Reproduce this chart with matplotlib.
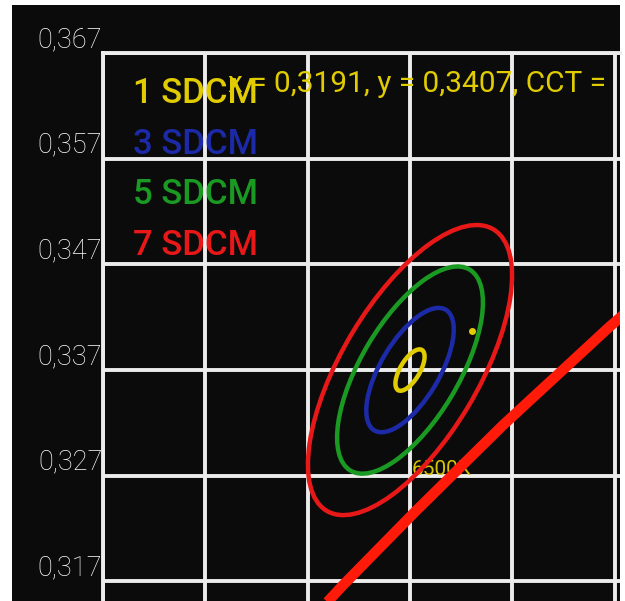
import matplotlib.pyplot as plt
from matplotlib.patches import Ellipse, Rectangle

plt.rcParams['font.family'] = ['Roboto', 'DejaVu Sans']

# grid / tick values
x_grid = [0.283, 0.293, 0.303, 0.313, 0.323, 0.333]
y_ticks = [0.317, 0.327, 0.337, 0.347, 0.357, 0.367]
y_tick_labels = ['0,317', '0,327', '0,337', '0,347', '0,357', '0,367']

# MacAdam ellipse (1 step) around F6500
center_x = 0.313
center_y = 0.337
ellipse_a = 0.00223
ellipse_b = 0.00095
ellipse_theta = 58.23
sdcm_steps = [1, 3, 5, 7]
sdcm_colors = ['#e0cc00', '#1c2aa8', '#1a9a22', '#e81818']

# Planckian locus points
locus_cct = [8000, 7500, 7000, 6500, 6000, 5500, 5000]
locus_x = [0.2952, 0.3004, 0.3064, 0.3135, 0.3221, 0.3325, 0.3451]
locus_y = [0.3048, 0.3103, 0.3166, 0.3236, 0.3318, 0.3411, 0.3516]

# measured point
point_x = 0.3191
point_y = 0.3407

fig = plt.figure(figsize=(6.25, 6.01), dpi=100, facecolor='white')
fig.add_artist(Rectangle((12 / 625, 0), 608 / 625, 596 / 601, transform=fig.transFigure,
                         facecolor='#0b0b0b', edgecolor='none', zorder=0))

ax = fig.add_axes([103 / 625, 0, 517 / 625, 548 / 601])
ax.set_facecolor('none')
ax.set_xlim(0.283, 0.33352)
ax.set_ylim(0.31515, 0.367)

ax.set_xticks(x_grid)
ax.set_yticks(y_ticks, y_tick_labels)
ax.grid(color='#ececec', lw=2.8, zorder=1)
ax.tick_params(axis='x', length=0, labelbottom=False)
ax.tick_params(axis='y', length=0, labelcolor='white', labelsize=19.5, pad=0.5)
for lab in ax.get_yticklabels():
    lab.set_va('bottom')
    lab.set_fontweight('light')
for side in ['bottom', 'right']:
    ax.spines[side].set_visible(False)
for side in ['left', 'top']:
    ax.spines[side].set_color('#ececec')
    ax.spines[side].set_linewidth(2.8)

# ellipses
for step, col in zip(sdcm_steps, sdcm_colors):
    e = Ellipse((center_x, center_y), 2 * ellipse_a * step, 2 * ellipse_b * step,
                angle=ellipse_theta, fill=False, edgecolor=col, lw=3.2, zorder=3)
    ax.add_patch(e)

# 6500K label and locus
ax.text(0.3132, 0.32707, '6500K', color='#d8c400', fontsize=15, zorder=2)
ax.plot(locus_x, locus_y, color='#ff1a0a', lw=7.5, zorder=4, solid_capstyle='butt')

ax.plot(point_x, point_y, 'o', color='#e0cc00', ms=4, zorder=5)

# legend texts
for i, (step, col) in enumerate(zip(sdcm_steps, sdcm_colors)):
    ax.text(0.058, 0.909 - i * 0.0925, f'{step} SDCM', color=col, fontsize=25,
            fontweight='medium', transform=ax.transAxes, va='baseline', zorder=6)

info = f'x = {point_x:.4f}, y = {point_y:.4f}, CCT ='.replace('.', ',')
ax.text(0.2418, 0.9288, info, color='#e0cc00', fontsize=21.5,
        transform=ax.transAxes, va='baseline', zorder=6)

fig.savefig('out.png', dpi=100, facecolor='white')
